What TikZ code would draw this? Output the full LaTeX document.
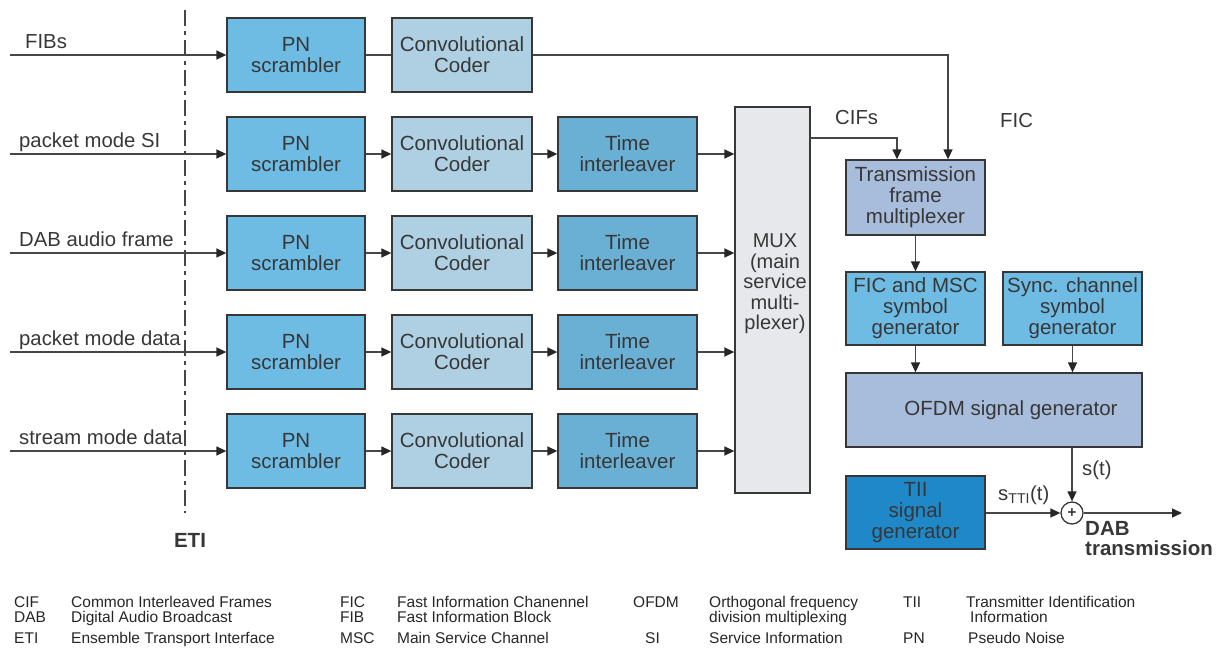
\documentclass[tikz,border=0pt]{standalone}
\usepackage{fontspec}
\setmainfont{Liberation Sans}
\usetikzlibrary{arrows.meta}
\definecolor{pnblue}{RGB}{110,188,228}
\definecolor{ccblue}{RGB}{174,208,226}
\definecolor{tiblue}{RGB}{106,175,212}
\definecolor{muxgray}{RGB}{230,232,236}
\definecolor{lavblue}{RGB}{168,188,220}
\definecolor{tiiblue}{RGB}{30,136,200}
\definecolor{edgec}{RGB}{55,55,55}
\definecolor{wirec}{RGB}{70,70,70}
\definecolor{txtc}{RGB}{55,55,55}
\begin{document}
\begin{tikzpicture}[x=1pt,y=-1pt,
  blk/.style={draw=edgec, line width=1.3pt, inner sep=0pt, align=center, text=txtc,
    font=\fontsize{20.5}{21}\selectfont},
  pnbox/.style={blk, fill=pnblue, minimum width=138pt, minimum height=74pt},
  ccbox/.style={blk, fill=ccblue, minimum width=140pt, minimum height=74pt},
  tibox/.style={blk, fill=tiblue, minimum width=139pt, minimum height=74pt},
  wire/.style={draw=wirec, line width=1.4pt},
  arr/.style={wire, -{Triangle[length=10pt,width=9pt,color=black!85]}},
  lbl/.style={font=\fontsize{20.3}{21}\selectfont, text=txtc, inner sep=0pt, anchor=base west},
  blbl/.style={font=\fontsize{20.5}{21}\selectfont\bfseries, text=txtc, inner sep=0pt, anchor=base west},
  leg/.style={font=\fontsize{15.5}{13}\selectfont, text=black!85, inner sep=0pt, anchor=base west},
  legtop/.style={leg, text depth=0pt},
  legmid/.style={leg, text height=11pt},
  etiline/.style={draw=wirec, line width=1.2pt, dash pattern=on 16pt off 5pt on 4pt off 5pt}
]
\useasboundingbox (0,0) rectangle (1225,662);

% ETI dashed line
\coordinate (etitop) at (185,10);
\coordinate (etibot) at (185,513);
\draw[etiline] (etitop) -- (etibot);
\node[blbl, anchor=base] (etil) at (190,547) {ETI};

% rows
\foreach \i in {1,...,5} {
  \pgfmathsetmacro\yy{55+99*(\i-1)}
  \node[pnbox] (pn\i) at (296,\yy) {PN\\scrambler};
  \node[ccbox] (cc\i) at (462,\yy) {Convolutional\\Coder};
  \coordinate (in\i) at (10,\yy);
  \draw[arr] (in\i) -- (pn\i);
}
\foreach \i in {2,...,5} {
  \pgfmathsetmacro\yy{55+99*(\i-1)}
  \node[tibox] (ti\i) at (627.5,\yy) {Time\\interleaver};
  \draw[arr] (pn\i) -- (cc\i);
  \draw[arr] (cc\i) -- (ti\i);
}
\draw[wire] (pn1) -- (cc1);

% input labels
\node[lbl] (l1) at (25,48) {FIBs};
\node[lbl] (l2) at (19,147) {packet mode SI};
\node[lbl] (l3) at (19,246) {DAB audio frame};
\node[lbl] (l4) at (19,345) {packet mode data};
\node[lbl] (l5) at (19,444) {stream mode data};

% MUX
\node[blk, fill=muxgray, minimum width=75pt, minimum height=386pt] (mux) at (772.5,300) {};
\node[blk, draw=none, font=\fontsize{20}{20.5}\selectfont] (muxt) at (775,284) {MUX\\(main\\service\\multi-\\plexer)};
\foreach \i in {2,...,5} {
  \draw[arr] (ti\i) -- (ti\i.east -| mux.west);
}

% right side
\node[blk, fill=lavblue, minimum width=139pt, minimum height=75pt] (tfm) at (915.5,197.5) {Transmission\\frame\\multiplexer};
\node[blk, fill=pnblue, minimum width=139pt, minimum height=73pt] (fms) at (915.5,308.5) {FIC and MSC\\symbol\\generator};
\node[blk, fill=pnblue, minimum width=139pt, minimum height=73pt] (sync) at (1072.5,308.5) {Sync. channel\\symbol\\generator};
\node[blk, fill=lavblue, minimum width=296pt, minimum height=74pt] (ofdm) at (994,410) {};
\node[blk, draw=none] (ofdmt) at (1011,410) {OFDM signal generator};
\node[blk, fill=tiiblue, minimum width=139pt, minimum height=73pt] (tii) at (915.5,512.5) {TII\\signal\\generator};
\node[draw=edgec, line width=1.3pt, circle, fill=white, minimum size=22pt, inner sep=0pt,
  font=\fontsize{15}{15}\selectfont\bfseries, text=txtc] (sum) at (1072,513) {+};

% CIFs and FIC connectors
\coordinate (cifout) at (810,138);
\draw[arr] (cifout) -| ([xshift=-18.5pt]tfm.north);
\draw[arr] (cc1.east) -| ([xshift=32.5pt]tfm.north);
\node[lbl] (cifl) at (835,124) {CIFs};
\node[lbl] (ficl) at (1000,127) {FIC};

\draw[arr] (tfm) -- (fms);
\draw[arr] (fms) -- (fms.south |- ofdm.north);
\draw[arr] (sync) -- (sync.south |- ofdm.north);
\draw[arr] (sum.north |- ofdm.south) -- (sum.north);
\draw[arr] (tii.east |- sum.west) -- (sum.west);
\coordinate (out) at (1182,513);
\draw[arr] (sum.east) -- (out);

\node[lbl] (stl) at (1082,475) {s(t)};
\node[lbl] (sttil) at (998,500) {s\textsubscript{TTI}(t)};
\node[blbl] (dab1) at (1085,535) {DAB};
\node[blbl] (dab2) at (1085,555) {transmission};

% legend
\node[legtop] (g1) at (14,607) {CIF};
\node[legtop] (g2) at (71,607) {Common Interleaved Frames};
\node[legtop] (g3) at (340,607) {FIC};
\node[legtop] (g4) at (397,607) {Fast Information Chanennel};
\node[legtop] (g5) at (633,607) {OFDM};
\node[legtop] (g6) at (709,607) {Orthogonal frequency};
\node[legtop] (g7) at (903,607) {TII};
\node[legtop] (g8) at (966,607) {Transmitter Identification};
\node[legmid] (g9) at (14,622) {DAB};
\node[legmid] (g10) at (71,622) {Digital Audio Broadcast};
\node[legmid] (g11) at (340,622) {FIB};
\node[legmid] (g12) at (397,622) {Fast Information Block};
\node[legmid] (g13) at (709,622) {division multiplexing};
\node[legmid] (g14) at (970,622) {Information};
\node[leg] (g15) at (14,643) {ETI};
\node[leg] (g16) at (71,643) {Ensemble Transport Interface};
\node[leg] (g17) at (340,643) {MSC};
\node[leg] (g18) at (397,643) {Main Service Channel};
\node[leg] (g19) at (645,643) {SI};
\node[leg] (g20) at (709,643) {Service Information};
\node[leg] (g21) at (903,643) {PN};
\node[leg] (g22) at (968,643) {Pseudo Noise};
\end{tikzpicture}
\end{document}
